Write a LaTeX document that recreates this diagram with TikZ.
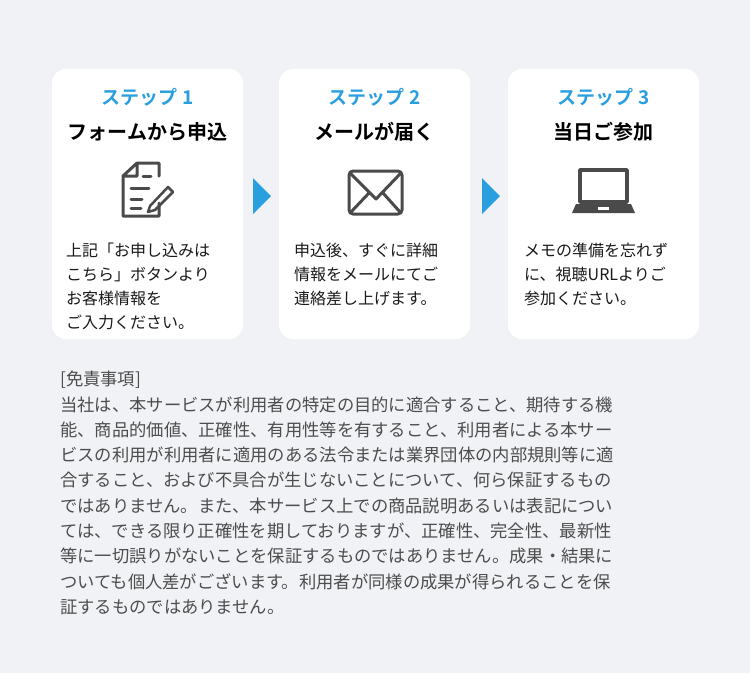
\documentclass[tikz,border=0pt]{standalone}
\usepackage{fontspec}
\setmainfont{Noto Sans CJK JP}
\newfontfamily\jpbold{Noto Sans CJK JP Bold}
\usetikzlibrary{positioning}
\definecolor{pagebg}{HTML}{F1F2F5}
\definecolor{stepblue}{HTML}{2A9FE0}
\definecolor{icongray}{HTML}{4A4A4A}
\definecolor{bodytext}{HTML}{1A1A1A}
\definecolor{notetext}{HTML}{4D4D4D}
\tikzset{
  card/.style={fill=white,rounded corners=14pt,draw=none},
  steptitle/.style={text=stepblue,font=\jpbold\fontsize{19}{22}\selectfont,inner sep=0pt},
  stephead/.style={text=black,font=\jpbold\fontsize{20}{22}\selectfont,inner sep=0pt},
  stepbody/.style={text=bodytext,font=\fontsize{16}{24}\selectfont,align=left,anchor=north west,inner sep=0pt},
  icon/.style={draw=icongray,line width=3pt,line join=round,line cap=round},
  nextarrow/.style={fill=stepblue,draw=none}
}
\begin{document}
\begin{tikzpicture}[x=1pt,y=-1pt]
\fill[pagebg] (0,0) rectangle (750,673);
\useasboundingbox (0,0) rectangle (750,673);
% cards
\fill[card] (52,69) rectangle (243,339);
\fill[card] (279,69) rectangle (470,339);
\fill[card] (508,69) rectangle (699,339);
% arrows
\fill[nextarrow] (253,178) -- (271,196) -- (253,214) -- cycle;
\fill[nextarrow] (482,178) -- (500,196) -- (482,214) -- cycle;
% titles
\node[steptitle] (t1) at (147.5,97) {ステップ 1};
\node[steptitle] (t2) at (374.5,97) {ステップ 2};
\node[steptitle] (t3) at (603.5,97) {ステップ 3};
\node[stephead] (h1) at (147.5,132) {フォームから申込};
\node[stephead] (h2) at (374.5,132) {メールが届く};
\node[stephead] (h3) at (603.5,132) {当日ご参加};
% icon 1: form
\draw[icon] (137,163) -- (159,163) -- (159,176) (159,203) -- (159,216) -- (123,216) -- (123,176) -- (137,163) -- (137,176) -- (123,176);
\draw[icon] (143,176) -- (151,176) (131,188) -- (149,188) (131,199) -- (142,199) (131,208) -- (141,208);
\draw[icon,line width=2.5pt] (150,206) -- (168,187) -- (173,192) -- (155,210) -- (148,212) -- cycle;
% icon 2: mail
\draw[icon,rounded corners=4pt] (349,171) rectangle (402,214);
\draw[icon] (351,174) -- (376,199) -- (400,174) (351,212) -- (369,193) (400,212) -- (383,193);
% icon 3: laptop
\draw[icon,line width=3.5pt] (580,170) rectangle (627,202);
\fill[icongray] (576,204) -- (631,204) -- (635,213) -- (572,213) -- cycle;
\fill[white] (598,207) rectangle (609,210);
% body texts
\node[stepbody] (b1) at (66,243) {上記「お申し込みは\\こちら」ボタンより\\お客様情報を\\ご入力ください。};
\node[stepbody] (b2) at (294,243) {申込後、すぐに詳細\\情報をメールにてご\\連絡差し上げます。};
\node[stepbody] (b3) at (524,243) {メモの準備を忘れず\\に、視聴URLよりご\\参加ください。};
% disclaimer
\node[anchor=north west,inner sep=0pt,text=notetext,align=left,font=\fontsize{17.3}{25.3}\selectfont] (note) at (60,371) {[免責事項]\\当社は、本サービスが利用者の特定の目的に適合すること、期待する機\\能、商品的価値、正確性、有用性等を有すること、利用者による本サー\\ビスの利用が利用者に適用のある法令または業界団体の内部規則等に適\\合すること、および不具合が生じないことについて、何ら保証するもの\\ではありません。また、本サービス上での商品説明あるいは表記につい\\ては、できる限り正確性を期しておりますが、正確性、完全性、最新性\\等に一切誤りがないことを保証するものではありません。成果・結果に\\ついても個人差がございます。利用者が同様の成果が得られることを保\\証するものではありません。};
\end{tikzpicture}
\end{document}
